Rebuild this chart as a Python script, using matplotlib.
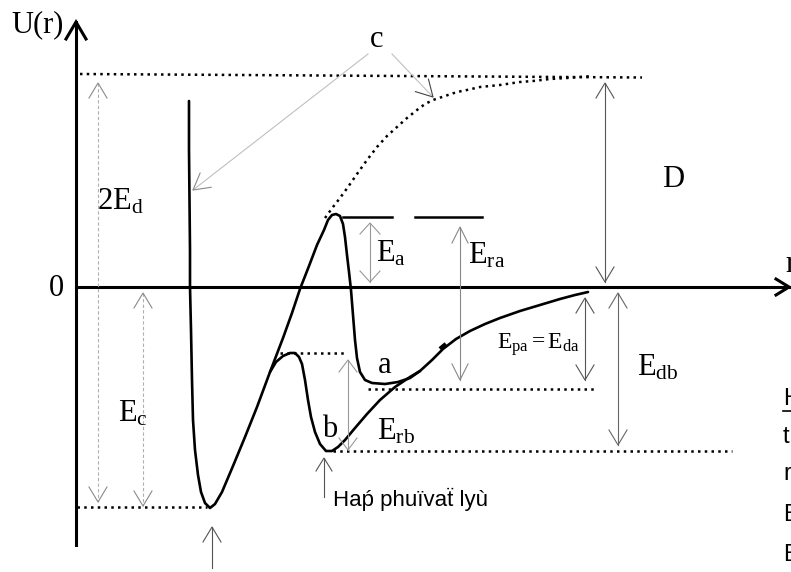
import matplotlib
matplotlib.use("Agg")
import matplotlib.pyplot as plt

plt.rcParams['mathtext.fontset'] = 'custom'
plt.rcParams['mathtext.rm'] = 'Liberation Serif'
plt.rcParams['mathtext.it'] = 'Liberation Serif:italic'
plt.rcParams['mathtext.bf'] = 'Liberation Serif:bold'

W, H = 791, 572

# ---- potential-energy curves (drawing units: x to the right, y downward) ----
# curve a: repulsive wall, deep well, activation barrier, shallow well a, tail to 0
curve_a_x = [189, 189, 189.5, 190, 190, 191, 192, 193, 195, 198, 201, 205, 210,
             215, 222, 233, 245, 257, 270, 283, 292, 300, 309, 317, 324, 328,
             332, 336, 340, 343, 345, 347, 349, 351, 353, 355, 357, 360, 365,
             372, 385, 398, 410, 420, 432, 443, 456, 470, 485, 500, 520, 540,
             560, 575, 588]
curve_a_y = [101, 150, 200, 250, 287, 330, 380, 420, 450, 475, 492, 503, 508,
             504, 492, 466, 437, 407, 372, 338, 313, 289, 266, 245, 230, 220,
             215, 214, 216, 224, 237, 255, 272, 290, 315, 340, 358, 372, 380,
             383, 384, 382, 378, 371, 360, 349, 339, 331, 324, 318, 311, 305,
             299, 295, 292]

# curve b: branches off the wall, small barrier, deeper well b, joins the tail
curve_b_x = [270, 276, 283, 290, 295, 299, 302, 305, 308, 311, 315, 320, 326,
             332, 338, 345, 355, 367, 380, 395, 410, 420]
curve_b_y = [372, 362, 356, 353, 353, 357, 364, 380, 400, 417, 432, 444, 451,
             451, 447, 440, 428, 414, 400, 387, 377, 371]

# curve c (dotted): continuation of the barrier up to the 2E_d level
curve_c_x = [325, 333, 340, 348, 357, 367, 377, 387, 397, 407, 417, 425, 433,
             445, 457, 467, 480, 500, 520, 533, 550, 567, 580, 593]
curve_c_y = [218, 207, 198, 187, 174, 160, 147, 136, 127, 118, 110, 104, 100,
             96, 92, 90, 87, 85, 82, 81, 79, 78, 77, 76]

fig = plt.figure(figsize=(W / 100, H / 100), dpi=100)
ax = fig.add_axes([0, 0, 1, 1])
ax.set_xlim(0, W)
ax.set_ylim(H, 0)
ax.axis('off')

CURVE_LW = 1.9
DOT = dict(color='black', lw=1.8, linestyle=(0, (1, 1.7)))


def head(tx, ty, dx, dy, length=15, half=9, color='#666', lw=0.8):
    """Open V arrow head with its tip at (tx, ty), pointing along (dx, dy)."""
    n = (dx * dx + dy * dy) ** 0.5
    ux, uy = dx / n, dy / n
    px, py = -uy, ux
    bx, by = tx - ux * length, ty - uy * length
    ax.plot([bx + px * half, tx, bx - px * half],
            [by + py * half, ty, by - py * half],
            color=color, lw=lw, solid_joinstyle='miter')


def varrow(x, y_top, y_bot, color, lw=0.8, ls='-', hcolor=None,
           length=15, half=9, both=True):
    ax.plot([x, x], [y_top, y_bot], color=color, lw=lw, linestyle=ls)
    hc = hcolor or color
    head(x, y_top, 0, -1, length, half, hc, lw)
    if both:
        head(x, y_bot, 0, 1, length, half, hc, lw)


# ---- axes ----
ax.plot([76, 76], [545, 22], color='black', lw=2.2)
ax.plot([66, 76, 86], [39, 22, 39], color='black', lw=2.2,
        solid_joinstyle='miter')
ax.plot([76, 789], [287, 287], color='black', lw=2.2)
ax.plot([776, 789, 776], [279, 287, 295], color='black', lw=2.2,
        solid_joinstyle='miter')

# ---- reference levels ----
ax.plot([80, 642], [74, 77.5], **DOT)          # 2E_d level
ax.plot([77, 207], [507, 507], **DOT)          # bottom of deep well
ax.plot([280, 346], [353, 353], **DOT)         # top of barrier b
ax.plot([368, 595], [389, 389], **DOT)         # bottom of well a
ax.plot([333, 732], [451, 451], **DOT)         # bottom of well b
ax.plot([343, 392], [217, 217], color='black', lw=1.8)
ax.plot([415, 482], [217, 217], color='black', lw=1.8)

# ---- curves ----
ax.plot(curve_c_x, curve_c_y, **DOT)
ax.plot(curve_a_x, curve_a_y, color='black', lw=CURVE_LW,
        solid_joinstyle='round', solid_capstyle='round')
ax.plot(curve_b_x, curve_b_y, color='black', lw=CURVE_LW,
        solid_joinstyle='round', solid_capstyle='round')
ax.plot([440, 446], [349, 344], color='black', lw=3.2, solid_capstyle='butt')

# ---- energy arrows ----
varrow(98, 83, 502, '#b0b0b0', ls=(0, (3, 2)), hcolor='#8a8a8a')   # 2E_d
varrow(143, 293, 506, '#b0b0b0', ls=(0, (3, 2)), hcolor='#8a8a8a')  # E_c
varrow(605, 83, 282, '#555555')                                     # D
varrow(370, 223, 282, '#999999', length=11, half=10)                # E_a
varrow(460, 227, 380, '#888888', length=16, half=8)                 # E_ra
varrow(585, 298, 380, '#555555', length=15, half=9)                 # E_pa
varrow(618, 293, 445, '#666666')                                    # E_db
varrow(348, 360, 450, '#999999', length=12, half=9)                 # E_rb
varrow(212, 527, 568, '#555555', both=False)
varrow(324, 458, 497, '#555555', length=13, half=8, both=False)

# pointers from label c
ax.plot([368, 193], [54, 190], color='#c0c0c0', lw=0.8)
head(193, 190, 193 - 368, 190 - 54, 16, 9, '#8a8a8a', 0.8)
ax.plot([392, 433], [54, 97], color='#c0c0c0', lw=0.8)
head(433, 97, 433 - 392, 97 - 54, 16, 9, '#444444', 0.8)

# ---- labels ----
SERIF = dict(family='Liberation Serif', color='black', va='baseline',
             ha='left')
FS = 22
ax.text(11, 32, 'U(r)', fontsize=FS, **SERIF)
ax.text(49, 296, '0', fontsize=FS, **SERIF)
ax.text(785, 272, 'r', fontsize=FS, **SERIF)
ax.text(370, 47, 'c', fontsize=FS, **SERIF)
ax.text(662, 187, 'D', fontsize=FS, **SERIF)
ax.text(97, 209, r'$\mathrm{2E_{d}}$', fontsize=FS, **SERIF)
ax.text(118, 422, r'$\mathrm{E_{c}}$', fontsize=FS, **SERIF)
ax.text(376, 262, r'$\mathrm{E_{a}}$', fontsize=FS, **SERIF)
ax.text(468, 264, r'$\mathrm{E_{ra}}$', fontsize=FS, **SERIF)
ax.text(378, 373, 'a', fontsize=FS, **SERIF)
ax.text(322, 437, 'b', fontsize=FS, **SERIF)
ax.text(377, 439, r'$\mathrm{E_{rb}}$', fontsize=FS, **SERIF)
ax.text(637, 375, r'$\mathrm{E_{db}}$', fontsize=FS, **SERIF)
ax.text(497, 349, r'$\mathrm{E_{pa}} = \mathrm{E_{da}}$', fontsize=17,
        **SERIF)

SANS = dict(family=['Liberation Sans', 'DejaVu Sans'], color='black',
            va='baseline', ha='left')
ax.text(333, 506, 'Haṕ phuïvaẗ lyù', fontsize=16, **SANS)
for ch, yb in zip(['H', 't', 'r', 'E', 'E'], [405, 443, 480, 521, 561]):
    ax.text(783, yb, ch, fontsize=17, **SANS)
ax.plot([783, 791], [411, 411], color='black', lw=1.2)

fig.savefig('out.png', dpi=100, facecolor='white')
